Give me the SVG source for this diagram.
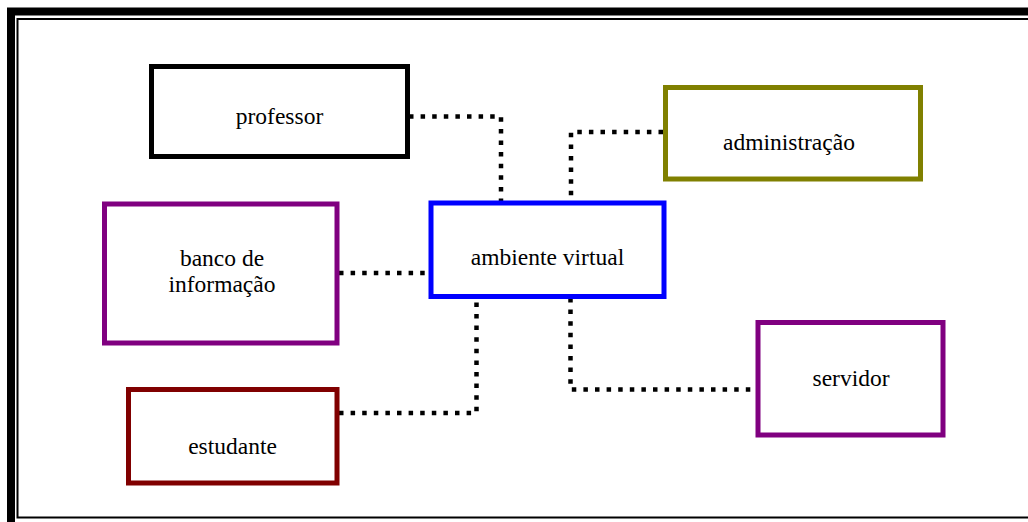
<svg xmlns="http://www.w3.org/2000/svg" width="1028" height="522" viewBox="0 0 1028 522">
  <style>
    .box { fill: #ffffff; stroke-width: 5; }
    .lbl { font-family: "Liberation Serif", "Times New Roman", serif; font-size: 23.5px; fill: #000000; text-anchor: middle; }
    .link { fill: none; stroke: #000000; stroke-width: 4.5; stroke-dasharray: 4.5 7.1; }
  </style>

  <!-- page frame: thick outer rule with thin inner rule -->
  <rect x="0" y="0" width="1028" height="522" fill="#ffffff"/>
  <rect x="11" y="11.5" width="1040" height="530" fill="none" stroke="#000000" stroke-width="8"/>
  <rect x="17.5" y="19" width="1030" height="498.5" fill="none" stroke="#000000" stroke-width="2"/>

  <!-- connectors -->
  <g id="connectors">
    <polyline class="link" points="409,116.5 501,116.5 501,202"/>
    <polyline class="link" points="663,132 571,132 571,202"/>
    <polyline class="link" points="339,273 430,273"/>
    <polyline class="link" points="339,413 476.5,413 476.5,298"/>
    <polyline class="link" points="570.5,298 570.5,389.5 757,389.5"/>
  </g>

  <g id="professor">
    <rect class="box" x="151.5" y="66.5" width="256" height="90" stroke="#000000"/>
    <text class="lbl" x="279.5" y="124">professor</text>
  </g>

  <g id="administracao">
    <rect class="box" x="665.5" y="87.5" width="255" height="91.5" stroke="#808000"/>
    <text class="lbl" x="789" y="150">administração</text>
  </g>

  <g id="banco">
    <rect class="box" x="104.5" y="204" width="232.5" height="139" stroke="#800080"/>
    <text class="lbl" x="222" y="266">banco de</text>
    <text class="lbl" x="222" y="292">informação</text>
  </g>

  <g id="ambiente">
    <rect class="box" x="431" y="203" width="233" height="93.5" stroke="#0000ff"/>
    <text class="lbl" x="547.5" y="265">ambiente virtual</text>
  </g>

  <g id="servidor">
    <rect class="box" x="758" y="322.5" width="185" height="112.5" stroke="#800080"/>
    <text class="lbl" x="851" y="386">servidor</text>
  </g>

  <g id="estudante">
    <rect class="box" x="128.5" y="389.5" width="208.5" height="93.5" stroke="#800000"/>
    <text class="lbl" x="232.5" y="454">estudante</text>
  </g>
</svg>
